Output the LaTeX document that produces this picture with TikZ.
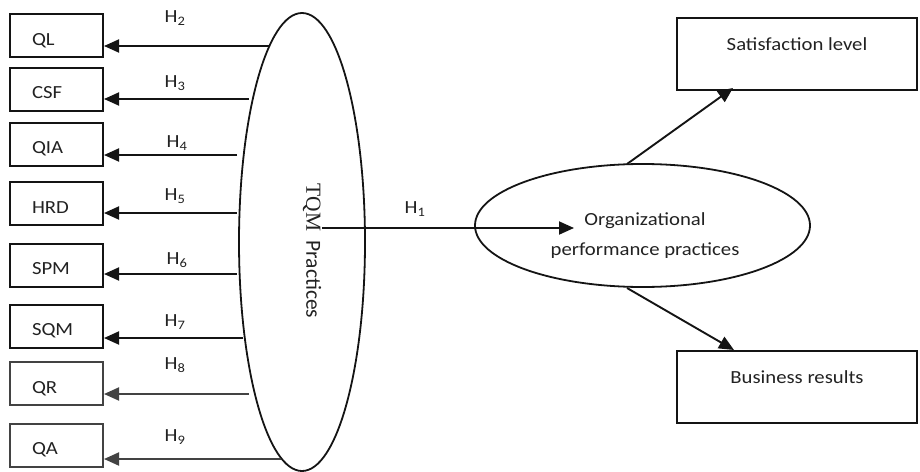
\documentclass[tikz,border=0pt]{standalone}
\usepackage{fontspec}
\setmainfont{Carlito}[FakeStretch=1.12]
\newfontfamily\tqmserif{Liberation Serif}
\newfontfamily\tqmsans{Carlito}
\usetikzlibrary{arrows.meta,shapes.geometric}
\definecolor{linec}{HTML}{141414}
\definecolor{textc}{HTML}{222222}
\newcommand\hyp[1]{H\textsubscript{#1}}

\begin{document}
\begin{tikzpicture}[x=1pt,y=-1pt,
  every node/.style={text=textc, font=\fontsize{18.5}{22}\selectfont},
  lbox/.style={draw=linec, line width=2pt, minimum width=93pt, minimum height=43pt,
    inner xsep=22pt, text width=49pt, align=left, text height=19.5pt, text depth=0pt},
  rbox/.style={draw=linec, line width=1.8pt, minimum width=240pt, minimum height=72pt,
    inner sep=0pt, text height=0pt, text depth=6.5pt},
  hlab/.style={inner sep=0pt},
  conn/.style={draw=linec, line width=1.9pt, -{Triangle[length=15pt,width=13pt]}},
  oval/.style={draw=linec, line width=1.8pt, ellipse, inner sep=0pt}
]
\useasboundingbox (0,0) rectangle (920,471);

% left-hand constructs
\node[lbox] (ql)  at (56.5,35.5)  {QL};
\node[lbox] (csf) at (56.5,89)    {CSF};
\node[lbox] (qia) at (56.5,144)   {QIA};
\node[lbox] (hrd) at (56.5,203.5) {HRD};
\node[lbox] (spm) at (56.5,265)   {SPM};
\node[lbox] (sqm) at (56.5,326)   {SQM};
\node[lbox, draw=linec!80] (qr)  at (56.5,383.5) {QR};
\node[lbox, draw=linec!80] (qa)  at (56.5,445)   {QA};

% TQM practices oval
\node[oval, minimum width=126pt, minimum height=458pt] (tqm) at (302,242) {};
\node[rotate=-90, inner sep=0pt, font=\fontsize{21.5}{24}\selectfont] (tqmt) at (312,251)
  {{\tqmserif TQM}\hspace{9pt}{\tqmsans Practices}};

% arrow start points along the oval
\coordinate (s2) at (270,46);
\coordinate (s3) at (249,99);
\coordinate (s4) at (237,155);
\coordinate (s5) at (237,213);
\coordinate (s6) at (237,274);
\coordinate (s7) at (243,338);
\coordinate (s8) at (249,394);
\coordinate (s9) at (281,459);

\draw[conn] (s2) -- (s2 -| ql.east);
\draw[conn] (s3) -- (s3 -| csf.east);
\draw[conn] (s4) -- (s4 -| qia.east);
\draw[conn] (s5) -- (s5 -| hrd.east);
\draw[conn] (s6) -- (s6 -| spm.east);
\draw[conn] (s7) -- (s7 -| sqm.east);
\draw[conn, draw=linec!80] (s8) -- (s8 -| qr.east);
\draw[conn, draw=linec!80] (s9) -- (s9 -| qa.east);

\node[hlab] (h2) at (175,18)  {\hyp{2}};
\node[hlab] (h3) at (175,83)  {\hyp{3}};
\node[hlab] (h4) at (177,143) {\hyp{4}};
\node[hlab] (h5) at (175,196) {\hyp{5}};
\node[hlab] (h6) at (177,260) {\hyp{6}};
\node[hlab] (h7) at (175,322) {\hyp{7}};
\node[hlab] (h8) at (175,365) {\hyp{8}};
\node[hlab] (h9) at (175,437) {\hyp{9}};

% organizational performance oval
\node[oval, minimum width=335pt, minimum height=123pt] (org) at (642.5,225.5) {};
\node[align=center, inner sep=0pt, font=\fontsize{18.5}{30}\selectfont] (orgt) at (645,236)
  {Organizational\\performance practices};

\coordinate (h1s) at (322,228);
\coordinate (h1e) at (574,228);
\draw[conn] (h1s) -- (h1e);
\node[hlab] (h1) at (415,209) {\hyp{1}};

% outcome boxes
\node[rbox] (sat) at (797,54)  {Satisfaction level};
\node[rbox] (bus) at (797,387) {Business results};

\coordinate (os) at (627,164);
\coordinate (ot) at (733,88);
\coordinate (ob) at (627,288);
\coordinate (oe) at (734,350);
\draw[conn] (os) -- (ot);
\draw[conn] (ob) -- (oe);
\end{tikzpicture}
\end{document}
